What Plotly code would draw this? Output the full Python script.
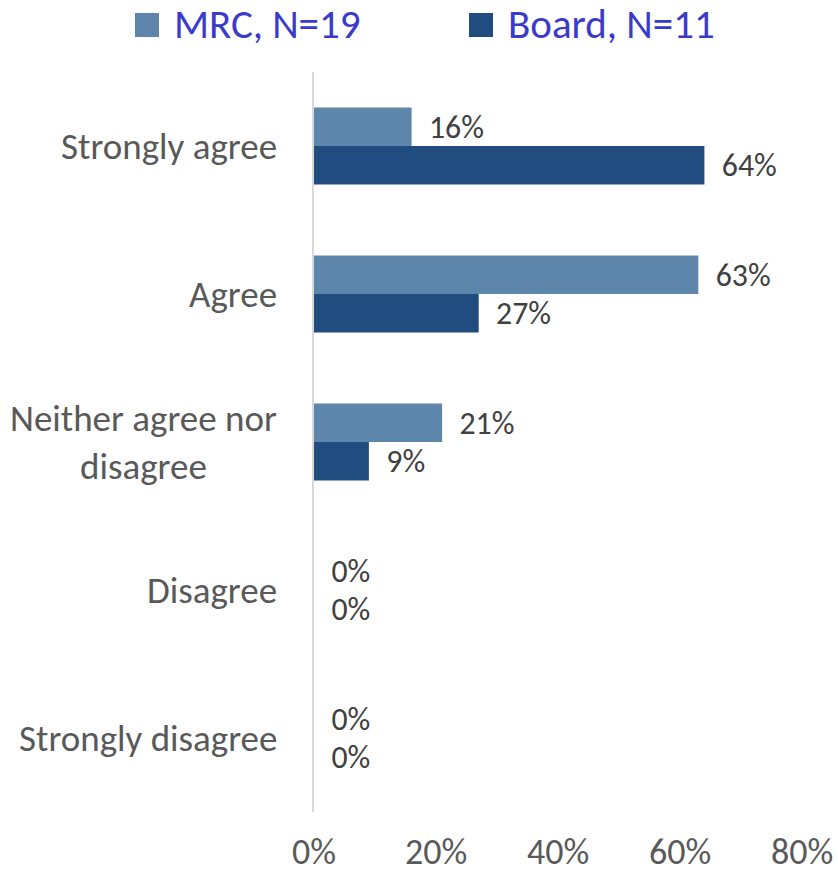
import plotly.graph_objects as go

# ---- data ----
categories = ["Strongly agree", "Agree", "Neither agree nor disagree", "Disagree", "Strongly disagree"]
category_labels = ["Strongly agree", "Agree", "Neither agree nor<br>disagree", "Disagree", "Strongly disagree"]
series_names = ["MRC, N=19", "Board, N=11"]
mrc_values = [16, 63, 21, 0, 0]
board_values = [64, 27, 9, 0, 0]
x_tick_values = [0, 20, 40, 60, 80]
x_tick_labels = ["0%", "20%", "40%", "60%", "80%"]

# ---- style ----
FONT = "Carlito, Lato, sans-serif"
COLORS = ["#5E85AA", "#214C80"]
W, H = 838, 876
ML, MR, MT, MB = 314, 36, 72, 64
PW, PH = W - ML - MR, H - MT - MB


def px_x(px):
    return (px - ML) / PW


def px_y(py):
    return (H - MB - py) / PH


fig = go.Figure()
for name, vals, color in zip(series_names, [mrc_values, board_values], COLORS):
    fig.add_trace(go.Bar(
        y=categories, x=vals, orientation="h", name=name,
        marker=dict(color=color, line=dict(width=0)),
        text=["\u00a0\u00a0%d%%" % v for v in vals],
        textposition="outside", cliponaxis=False,
        textfont=dict(family=FONT, size=38, color="#404040"),
        showlegend=False,
    ))

# category labels (centered multi-line like the original)
for cat, lab in zip(categories, category_labels):
    fig.add_annotation(x=0, xref="paper", xanchor="right", xshift=-35,
                       y=cat, yref="y", yanchor="middle", text=lab, align="center",
                       showarrow=False, font=dict(family=FONT, size=37, color="#595959"))

# legend drawn manually (large squares)
legend_items = [(135, 172), (469, 506)]
for (sq_x, tx_x), name, color in zip(legend_items, series_names, COLORS):
    fig.add_shape(type="rect", xref="paper", yref="paper",
                  x0=px_x(sq_x), x1=px_x(sq_x + 24), y0=px_y(37), y1=px_y(13),
                  fillcolor=color, line=dict(width=0))
    fig.add_annotation(x=px_x(tx_x), xref="paper", xanchor="left",
                       y=px_y(24), yref="paper", yanchor="middle", text=name,
                       showarrow=False, font=dict(family=FONT, size=41, color="#3B3BCB"))

fig.update_layout(
    width=W, height=H,
    margin=dict(l=ML, r=MR, t=MT, b=MB, autoexpand=False),
    paper_bgcolor="white", plot_bgcolor="white",
    barmode="group", bargap=0.48, bargroupgap=0,
    xaxis=dict(range=[0, 80], tickvals=x_tick_values, ticktext=x_tick_labels,
               showgrid=False, zeroline=False, showline=False,
               ticks="outside", ticklen=8, tickcolor="rgba(0,0,0,0)",
               tickfont=dict(family=FONT, size=36, color="#595959")),
    yaxis=dict(type="category", categoryorder="array", categoryarray=categories,
               autorange="reversed", showticklabels=False, showgrid=False,
               zeroline=False, showline=True, linecolor="#D9D9D9", linewidth=2, ticks=""),
)

fig.write_html("out.html", config={"displayModeBar": False},
               post_script="document.body.style.margin='0px';")
